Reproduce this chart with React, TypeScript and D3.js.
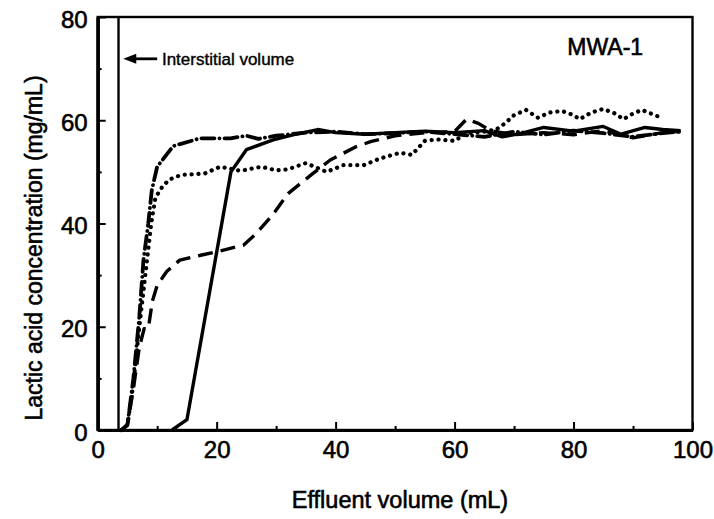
import React, { useEffect, useRef } from "react";
import * as d3 from "d3";

// effluent volume (mL) vs lactic acid concentration (mg/mL)
const solid: [number, number][] = [
  [12.5, 0], [15, 2], [22.4, 50], [25, 54.3], [29.5, 56.2], [33, 57.2], [37, 58.2],
  [40, 57.6], [45, 57.3], [50, 57.6], [55, 57.9], [60, 57.6], [65, 58], [68, 56.8],
  [71, 57.4], [75, 58.6], [80, 57.9], [85, 58.8], [88, 57.3], [92, 58.6], [95, 58.2], [98, 58],
];
const dashed: [number, number][] = [
  [4, 0], [5, 1], [6, 8], [7, 16], [7.8, 19.6], [8.5, 19.6], [9.2, 25], [10, 28],
  [11.6, 30.7], [13.8, 32.9], [17.5, 33.9], [20.6, 34.7], [24.5, 35.8], [26.7, 38.1],
  [29.5, 41.8], [32, 45.8], [36.2, 49.7], [39.1, 52.3], [43.5, 54.9], [46, 55.9],
  [50, 57], [55, 57.6], [60, 57.8], [62, 60.2], [64, 59.4], [66, 58], [70, 57.2],
  [75, 57.6], [80, 57.2], [85, 58], [90, 56.6], [95, 57.6], [98, 57.8],
];
const dotted: [number, number][] = [
  [4, 0], [5, 1], [6, 9], [7, 20], [8, 30], [9, 40], [9.7, 45], [10.8, 47], [12, 48.5],
  [14, 49.4], [18, 49.7], [20.6, 51], [24, 50.2], [27.5, 51], [30, 50.3], [32, 50.5],
  [35, 51.7], [38.5, 50], [41.3, 51.3], [44.7, 51.3], [47.5, 52.6], [50.8, 53.7],
  [52.8, 53.3], [55, 56], [57, 56.3], [60, 56], [62, 57.5], [65, 57.8], [67, 58.2],
  [68.5, 59.4], [70, 61], [72, 62], [74, 60.5], [76, 61.5], [78, 61.8], [80, 61],
  [81, 60.2], [83, 61.5], [85, 62.2], [87, 61.3], [88.4, 60.2], [90, 61.3], [91.5, 62],
  [93, 61.3], [94.5, 60.6],
];
const dashDot: [number, number][] = [
  [4, 0], [5, 1], [6, 10], [7, 22], [7.7, 33], [8.5, 40], [9.1, 46.5], [10, 51],
  [12.7, 55], [17.2, 56.5], [22.3, 56.5], [25, 57], [27, 56.4], [30, 57], [35, 57.6],
  [40, 57.8], [45, 57.3], [50, 57.5], [55, 57.8], [60, 57.3], [65, 56.8], [70, 57.8],
  [75, 57.2], [80, 58], [85, 57.5], [90, 56.8], [95, 57.5], [98, 57.8],
];

const xMajor = [0, 20, 40, 60, 80, 100];
const xMinor = [10, 30, 50, 70, 90];
const yMajor = [0, 20, 40, 60, 80];
const yMinor = [10, 30, 50, 70];

const interstitial = 3.5;

const W = 714;
const H = 519;
const font = "'Liberation Sans', Arial, Helvetica, sans-serif";

export default function App() {
  const ref = useRef<SVGSVGElement>(null);

  useEffect(() => {
    const svg = d3.select(ref.current);
    svg.selectAll("*").remove();

    const x = d3.scaleLinear().domain([0, 100]).range([97.7, 692.5]);
    const y = d3.scaleLinear().domain([0, 80]).range([430, 17]);

    // frame
    svg.append("rect")
      .attr("x", x(0)).attr("y", y(80))
      .attr("width", x(100) - x(0)).attr("height", y(0) - y(80))
      .attr("fill", "none").attr("stroke", "#000").attr("stroke-width", 2.4);

    // axes, ticks point inward
    const gx = svg.append("g").attr("transform", `translate(0,${y(0)})`)
      .call(d3.axisBottom(x).tickValues(xMajor).tickSizeInner(-8).tickSizeOuter(0).tickPadding(11));
    svg.append("g").attr("transform", `translate(0,${y(0)})`)
      .call(d3.axisBottom(x).tickValues(xMinor).tickSizeInner(-4).tickSizeOuter(0).tickFormat(() => ""));
    const gy = svg.append("g").attr("transform", `translate(${x(0)},0)`)
      .call(d3.axisLeft(y).tickValues(yMajor).tickSizeInner(-8).tickSizeOuter(0).tickPadding(10));
    svg.append("g").attr("transform", `translate(${x(0)},0)`)
      .call(d3.axisLeft(y).tickValues(yMinor).tickSizeInner(-4).tickSizeOuter(0).tickFormat(() => ""));

    svg.selectAll(".domain").attr("stroke", "#000").attr("stroke-width", 3.2);
    svg.selectAll(".tick line").attr("stroke", "#000").attr("stroke-width", 2);
    gx.selectAll("text").attr("font-size", 24).attr("dy", "0.71em");
    gy.selectAll("text").attr("font-size", 24).attr("dy", "0.42em");
    svg.selectAll(".tick text").attr("font-family", font).attr("fill", "#000")
      .attr("stroke", "#000").attr("stroke-width", 0.6);

    // interstitial volume marker
    svg.append("line")
      .attr("x1", x(interstitial)).attr("x2", x(interstitial))
      .attr("y1", y(0)).attr("y2", y(80))
      .attr("stroke", "#000").attr("stroke-width", 2.4);

    const line = d3.line<[number, number]>().x((d) => x(d[0])).y((d) => y(d[1]));

    const series = [
      { data: dashed, dash: "15 8", cap: "butt", w: 3.4 },
      { data: dotted, dash: "0.1 6.8", cap: "round", w: 4.2 },
      { data: dashDot, dash: "13 5 0.1 5", cap: "round", w: 3.8 },
      { data: solid, dash: null, cap: "butt", w: 3.4 },
    ];
    series.forEach((s) => {
      svg.append("path")
        .attr("d", line(s.data))
        .attr("fill", "none")
        .attr("stroke", "#000")
        .attr("stroke-width", s.w)
        .attr("stroke-linecap", s.cap)
        .attr("stroke-linejoin", "round")
        .attr("stroke-dasharray", s.dash);
    });

    // annotation arrow
    const ay = y(71.9);
    svg.append("path")
      .attr("d", `M${x(4.3)},${ay} L${x(4.3) + 13},${ay - 5} L${x(4.3) + 13},${ay + 5} Z`)
      .attr("fill", "#000");
    svg.append("line")
      .attr("x1", x(4.3) + 10).attr("x2", x(10))
      .attr("y1", ay).attr("y2", ay)
      .attr("stroke", "#000").attr("stroke-width", 2.8);

    const label = (t: d3.Selection<SVGTextElement, unknown, null, undefined>, size: number, sw: number) =>
      t.attr("font-family", font).attr("font-size", size)
        .attr("fill", "#000").attr("stroke", "#000").attr("stroke-width", sw);

    label(svg.append("text")
      .attr("x", x(10.8)).attr("y", ay + 6)
      .text("Interstitial volume"), 17, 0.4);

    label(svg.append("text")
      .attr("x", x(91.7)).attr("y", y(72.6))
      .attr("text-anchor", "end")
      .text("MWA-1"), 23, 0.6);

    // axis titles
    label(svg.append("text")
      .attr("x", 400).attr("y", 508)
      .attr("text-anchor", "middle")
      .text("Effluent volume (mL)"), 23.5, 0.6);
    label(svg.append("text")
      .attr("transform", `translate(42,248) rotate(-90)`)
      .attr("text-anchor", "middle")
      .text("Lactic acid concentration (mg/mL)"), 23, 0.6);
  }, []);

  return (
    <svg
      ref={ref}
      width={W}
      height={H}
      style={{ position: "absolute", left: 0, top: 0, background: "#fff" }}
    />
  );
}
